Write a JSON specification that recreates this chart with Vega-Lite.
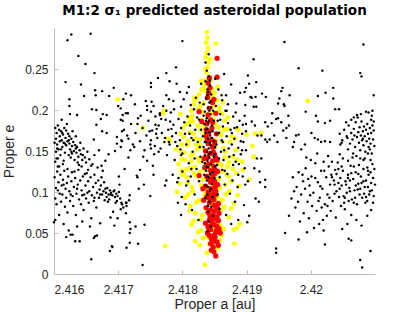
{
"$schema":"https://vega.github.io/schema/vega-lite/v6.json",
"width":321,"height":246,"autosize":"none",
"padding":{"left":54,"top":28,"right":40,"bottom":38},
"background":"white",
"view":{"stroke":null},
"title":{"text":"M1:2 σ₁ predicted asteroidal population","font":"DejaVu Sans","fontSize":13.5,"fontWeight":"bold","color":"#000000","offset":11},
"config":{"axis":{"grid":false,"domainColor":"#bdbdbd","tickColor":"#bdbdbd","tickSize":-4,"labelColor":"#262626","titleColor":"#262626","labelFont":"Liberation Sans","titleFont":"Liberation Sans","labelFontSize":12,"titleFontSize":14,"titleFontWeight":"normal"}},
"datasets":{
"k":[
{"a":2.41602,"e":0.178},{"a":2.41604,"e":0.172},{"a":2.41603,"e":0.165},{"a":2.41606,"e":0.181},{"a":2.41608,"e":0.176},{"a":2.41605,"e":0.158},{"a":2.41609,"e":0.168},{"a":2.41611,"e":0.174},{"a":2.41612,"e":0.163},{"a":2.41607,"e":0.152},{"a":2.41614,"e":0.170},{"a":2.41615,"e":0.160},{"a":2.41613,"e":0.155},{"a":2.41616,"e":0.178},{"a":2.41618,"e":0.166},{"a":2.41619,"e":0.157},{"a":2.41621,"e":0.162},{"a":2.41617,"e":0.148},{"a":2.41622,"e":0.171},{"a":2.41624,"e":0.159},{"a":2.41625,"e":0.152},{"a":2.41623,"e":0.145},{"a":2.41627,"e":0.165},{"a":2.41628,"e":0.156},{"a":2.41630,"e":0.161},{"a":2.41626,"e":0.142},{"a":2.41631,"e":0.150},{"a":2.41633,"e":0.157},{"a":2.41635,"e":0.148},{"a":2.41632,"e":0.139},{"a":2.41636,"e":0.155},{"a":2.41638,"e":0.143},{"a":2.41640,"e":0.151},{"a":2.41637,"e":0.136},{"a":2.41642,"e":0.146},{"a":2.41644,"e":0.139},{"a":2.41646,"e":0.153},{"a":2.41610,"e":0.145},{"a":2.41601,"e":0.160},{"a":2.41603,"e":0.149},{"a":2.41606,"e":0.141},{"a":2.41620,"e":0.183},{"a":2.41612,"e":0.188},{"a":2.41629,"e":0.174},{"a":2.41634,"e":0.168},{"a":2.41641,"e":0.160},{"a":2.41645,"e":0.145},{"a":2.41648,"e":0.142},{"a":2.41650,"e":0.136},{"a":2.41652,"e":0.149},{"a":2.41655,"e":0.140},{"a":2.41658,"e":0.132},{"a":2.41602,"e":0.137},{"a":2.41608,"e":0.131},{"a":2.41615,"e":0.138},{"a":2.41624,"e":0.168},{"a":2.41611,"e":0.152},{"a":2.41619,"e":0.175},{"a":2.41627,"e":0.149},{"a":2.41639,"e":0.133},
{"a":2.41605,"e":0.153},{"a":2.41609,"e":0.162},{"a":2.41613,"e":0.172},{"a":2.41617,"e":0.159},{"a":2.41623,"e":0.163},{"a":2.41628,"e":0.147},{"a":2.41634,"e":0.153},{"a":2.41604,"e":0.141},{"a":2.41614,"e":0.134},{"a":2.41621,"e":0.128},{"a":2.41632,"e":0.125},{"a":2.41643,"e":0.131},{"a":2.41653,"e":0.127},{"a":2.41606,"e":0.102},{"a":2.41615,"e":0.109},{"a":2.41626,"e":0.097},{"a":2.41636,"e":0.104},{"a":2.41644,"e":0.096},{"a":2.41652,"e":0.099},{"a":2.41663,"e":0.093},{"a":2.41672,"e":0.097},{"a":2.41680,"e":0.104},{"a":2.41688,"e":0.097},{"a":2.41694,"e":0.102},{"a":2.41698,"e":0.089},
{"a":2.41601,"e":0.118},{"a":2.41603,"e":0.105},{"a":2.41605,"e":0.125},{"a":2.41602,"e":0.092},{"a":2.41604,"e":0.085},{"a":2.41607,"e":0.112},{"a":2.41609,"e":0.098},{"a":2.41606,"e":0.131},{"a":2.41610,"e":0.121},{"a":2.41612,"e":0.108},{"a":2.41611,"e":0.088},{"a":2.41614,"e":0.115},{"a":2.41613,"e":0.097},{"a":2.41616,"e":0.126},{"a":2.41618,"e":0.104},{"a":2.41617,"e":0.082},{"a":2.41620,"e":0.111},{"a":2.41619,"e":0.093},{"a":2.41622,"e":0.119},{"a":2.41624,"e":0.101},{"a":2.41621,"e":0.075},{"a":2.41625,"e":0.089},{"a":2.41627,"e":0.113},{"a":2.41629,"e":0.095},{"a":2.41628,"e":0.124},{"a":2.41631,"e":0.106},{"a":2.41630,"e":0.083},{"a":2.41633,"e":0.117},{"a":2.41635,"e":0.098},{"a":2.41634,"e":0.072},{"a":2.41637,"e":0.109},{"a":2.41639,"e":0.091},{"a":2.41638,"e":0.127},{"a":2.41641,"e":0.114},{"a":2.41643,"e":0.102},{"a":2.41642,"e":0.085},{"a":2.41645,"e":0.119},{"a":2.41647,"e":0.097},{"a":2.41646,"e":0.078},{"a":2.41649,"e":0.108},{"a":2.41651,"e":0.123},{"a":2.41650,"e":0.092},{"a":2.41653,"e":0.113},{"a":2.41655,"e":0.101},{"a":2.41654,"e":0.087},{"a":2.41657,"e":0.118},{"a":2.41659,"e":0.096},{"a":2.41658,"e":0.068},{"a":2.41661,"e":0.106},{"a":2.41663,"e":0.121},{"a":2.41662,"e":0.089},{"a":2.41665,"e":0.111},{"a":2.41667,"e":0.099},{"a":2.41666,"e":0.081},{"a":2.41669,"e":0.114},{"a":2.41671,"e":0.103},{"a":2.41670,"e":0.093},{"a":2.41673,"e":0.108},{"a":2.41675,"e":0.097},{"a":2.41674,"e":0.118},{"a":2.41677,"e":0.101},{"a":2.41679,"e":0.090},{"a":2.41678,"e":0.112},{"a":2.41681,"e":0.099},{"a":2.41683,"e":0.105},{"a":2.41682,"e":0.094},{"a":2.41685,"e":0.097},{"a":2.41687,"e":0.102},{"a":2.41686,"e":0.091},{"a":2.41689,"e":0.099},{"a":2.41691,"e":0.096},{"a":2.41693,"e":0.101},{"a":2.41695,"e":0.094},{"a":2.41697,"e":0.098},{"a":2.41696,"e":0.087},{"a":2.41699,"e":0.095},{"a":2.41701,"e":0.100},{"a":2.41703,"e":0.092},{"a":2.41692,"e":0.076},{"a":2.41688,"e":0.069},{"a":2.41705,"e":0.087},{"a":2.41708,"e":0.081},{"a":2.41712,"e":0.074},{"a":2.41600,"e":0.063},{"a":2.41602,"e":0.066},{"a":2.41608,"e":0.072},{"a":2.41615,"e":0.061},{"a":2.41626,"e":0.048},{"a":2.41619,"e":0.045},{"a":2.41640,"e":0.040},{"a":2.41656,"e":0.058},{"a":2.41664,"e":0.046},{"a":2.41672,"e":0.062},{"a":2.41690,"e":0.034},{"a":2.41694,"e":0.059},{"a":2.41699,"e":0.068},{"a":2.41718,"e":0.038},{"a":2.41713,"e":0.087},{"a":2.41702,"e":0.109},{"a":2.41676,"e":0.126},{"a":2.41668,"e":0.130},{"a":2.41660,"e":0.134},{"a":2.41684,"e":0.088},{"a":2.41644,"e":0.064},{"a":2.41636,"e":0.058},{"a":2.41623,"e":0.053},{"a":2.41648,"e":0.122},
{"a":2.41663,"e":0.145},{"a":2.41670,"e":0.151},{"a":2.41680,"e":0.138},{"a":2.41685,"e":0.146},{"a":2.41674,"e":0.132},{"a":2.41695,"e":0.150},{"a":2.41705,"e":0.163},{"a":2.41710,"e":0.128},{"a":2.41716,"e":0.142},{"a":2.41725,"e":0.155},{"a":2.41730,"e":0.118},{"a":2.41734,"e":0.127},{"a":2.41740,"e":0.109},{"a":2.41745,"e":0.138},{"a":2.41750,"e":0.095},{"a":2.41755,"e":0.121},
{"a":2.41704,"e":0.155},{"a":2.41719,"e":0.151},{"a":2.41739,"e":0.143},{"a":2.41754,"e":0.132},{"a":2.41729,"e":0.120},{"a":2.41732,"e":0.104},{"a":2.41775,"e":0.114},{"a":2.41773,"e":0.108},{"a":2.41701,"e":0.119},{"a":2.41718,"e":0.096},{"a":2.41717,"e":0.090},{"a":2.41712,"e":0.087},{"a":2.41713,"e":0.083},{"a":2.41706,"e":0.085},{"a":2.41704,"e":0.079},{"a":2.41718,"e":0.063},{"a":2.41719,"e":0.055},{"a":2.41718,"e":0.050},{"a":2.41727,"e":0.058},{"a":2.41741,"e":0.060},{"a":2.41731,"e":0.037},{"a":2.41691,"e":0.033},{"a":2.41687,"e":0.028},{"a":2.41658,"e":0.018},{"a":2.41738,"e":0.011},{"a":2.41713,"e":0.032},{"a":2.41629,"e":0.048},{"a":2.41633,"e":0.040},{"a":2.41662,"e":0.044},{"a":2.41667,"e":0.047},
{"a":2.41621,"e":0.285},{"a":2.41627,"e":0.292},{"a":2.41657,"e":0.293},{"a":2.41638,"e":0.266},{"a":2.41649,"e":0.256},{"a":2.41663,"e":0.245},{"a":2.41618,"e":0.234},{"a":2.41642,"e":0.231},{"a":2.41664,"e":0.224},{"a":2.41647,"e":0.217},{"a":2.41624,"e":0.213},{"a":2.41624,"e":0.205},{"a":2.41665,"e":0.218},{"a":2.41675,"e":0.223},{"a":2.41686,"e":0.217},{"a":2.41693,"e":0.227},{"a":2.41666,"e":0.200},{"a":2.41659,"e":0.201},{"a":2.41712,"e":0.220},{"a":2.41720,"e":0.218},{"a":2.41726,"e":0.207},{"a":2.41751,"e":0.233},{"a":2.41751,"e":0.228},{"a":2.41762,"e":0.239},{"a":2.41775,"e":0.245},{"a":2.41790,"e":0.252},{"a":2.41800,"e":0.284},{"a":2.41780,"e":0.235},{"a":2.41791,"e":0.232},{"a":2.41636,"e":0.194},{"a":2.41625,"e":0.195},{"a":2.41676,"e":0.195},{"a":2.41708,"e":0.213},{"a":2.41704,"e":0.202},{"a":2.41715,"e":0.196},{"a":2.41743,"e":0.211},{"a":2.41745,"e":0.205},{"a":2.41752,"e":0.210},{"a":2.41673,"e":0.189},{"a":2.41682,"e":0.194},{"a":2.41707,"e":0.194},{"a":2.41707,"e":0.187},{"a":2.41730,"e":0.183},{"a":2.41735,"e":0.193},{"a":2.41765,"e":0.194},{"a":2.41775,"e":0.199},{"a":2.41666,"e":0.182},{"a":2.41662,"e":0.164},{"a":2.41675,"e":0.174},{"a":2.41682,"e":0.172},{"a":2.41698,"e":0.167},{"a":2.41698,"e":0.159},{"a":2.41706,"e":0.174},{"a":2.41706,"e":0.162},{"a":2.41714,"e":0.169},{"a":2.41751,"e":0.163},{"a":2.41749,"e":0.174},{"a":2.41760,"e":0.177},{"a":2.41751,"e":0.198},{"a":2.41758,"e":0.182},{"a":2.41781,"e":0.186},{"a":2.41798,"e":0.204},{"a":2.41779,"e":0.161},{"a":2.41751,"e":0.153},{"a":2.41757,"e":0.156},{"a":2.41798,"e":0.145},{"a":2.41794,"e":0.117},{"a":2.41799,"e":0.094},{"a":2.41793,"e":0.087},
{"a":2.41700,"e":0.205},{"a":2.41704,"e":0.188},{"a":2.41709,"e":0.176},{"a":2.41712,"e":0.196},{"a":2.41716,"e":0.165},{"a":2.41720,"e":0.183},{"a":2.41723,"e":0.158},{"a":2.41727,"e":0.172},{"a":2.41731,"e":0.190},{"a":2.41734,"e":0.162},{"a":2.41738,"e":0.178},{"a":2.41741,"e":0.151},{"a":2.41744,"e":0.169},{"a":2.41747,"e":0.187},{"a":2.41750,"e":0.158},{"a":2.41753,"e":0.175},{"a":2.41756,"e":0.146},{"a":2.41758,"e":0.192},{"a":2.41761,"e":0.166},{"a":2.41763,"e":0.181},{"a":2.41766,"e":0.153},{"a":2.41768,"e":0.172},{"a":2.41770,"e":0.205},{"a":2.41772,"e":0.161},{"a":2.41774,"e":0.188},{"a":2.41776,"e":0.145},{"a":2.41778,"e":0.176},{"a":2.41780,"e":0.158},{"a":2.41782,"e":0.197},{"a":2.41784,"e":0.168},{"a":2.41786,"e":0.182},{"a":2.41788,"e":0.139},{"a":2.41790,"e":0.172},{"a":2.41792,"e":0.156},{"a":2.41794,"e":0.189},{"a":2.41796,"e":0.163},{"a":2.41798,"e":0.178},{"a":2.41800,"e":0.147},{"a":2.41802,"e":0.213},{"a":2.41804,"e":0.171},{"a":2.41806,"e":0.158},{"a":2.41808,"e":0.192},{"a":2.41810,"e":0.135},{"a":2.41812,"e":0.181},{"a":2.41814,"e":0.166},{"a":2.41816,"e":0.149},{"a":2.41818,"e":0.201},{"a":2.41820,"e":0.176},{"a":2.41822,"e":0.128},{"a":2.41824,"e":0.161},{"a":2.41826,"e":0.188},{"a":2.41828,"e":0.143},{"a":2.41785,"e":0.121},{"a":2.41792,"e":0.112},{"a":2.41800,"e":0.125},{"a":2.41806,"e":0.108},{"a":2.41813,"e":0.119},{"a":2.41819,"e":0.097},{"a":2.41826,"e":0.113},{"a":2.41796,"e":0.222},{"a":2.41810,"e":0.228},{"a":2.41821,"e":0.215},{"a":2.41829,"e":0.232},{"a":2.41786,"e":0.211},{"a":2.41775,"e":0.218},{"a":2.41765,"e":0.196},{"a":2.41755,"e":0.205},{"a":2.41745,"e":0.200},{"a":2.41805,"e":0.085},{"a":2.41815,"e":0.078},{"a":2.41798,"e":0.072},{"a":2.41825,"e":0.066},
{"a":2.41843,"e":0.236},{"a":2.41839,"e":0.218},{"a":2.41845,"e":0.203},{"a":2.41837,"e":0.187},{"a":2.41846,"e":0.166},{"a":2.41841,"e":0.146},{"a":2.41838,"e":0.119},{"a":2.41844,"e":0.104},{"a":2.41840,"e":0.083},{"a":2.41847,"e":0.124},{"a":2.41835,"e":0.161},{"a":2.41833,"e":0.193},{"a":2.41849,"e":0.187},{"a":2.41851,"e":0.155},{"a":2.41831,"e":0.137},{"a":2.41829,"e":0.176},{"a":2.41827,"e":0.155},{"a":2.41853,"e":0.171},{"a":2.41857,"e":0.141},{"a":2.41859,"e":0.188},{"a":2.41863,"e":0.161},{"a":2.41869,"e":0.199},{"a":2.41877,"e":0.172},{"a":2.41883,"e":0.197},{"a":2.41891,"e":0.162},{"a":2.41823,"e":0.191},{"a":2.41817,"e":0.163},{"a":2.41811,"e":0.171},{"a":2.41803,"e":0.185},{"a":2.41797,"e":0.152},{"a":2.41789,"e":0.161},{"a":2.41783,"e":0.177},{"a":2.41773,"e":0.166},{"a":2.41767,"e":0.189},{"a":2.41759,"e":0.171},{"a":2.41763,"e":0.149},{"a":2.41787,"e":0.201},{"a":2.41779,"e":0.213},{"a":2.41813,"e":0.206},{"a":2.41807,"e":0.221},{"a":2.41827,"e":0.209},{"a":2.41861,"e":0.218},{"a":2.41871,"e":0.207},{"a":2.41881,"e":0.178},{"a":2.41893,"e":0.151},{"a":2.41897,"e":0.193},{"a":2.41887,"e":0.121},{"a":2.41879,"e":0.133},{"a":2.41866,"e":0.126},{"a":2.41819,"e":0.141},{"a":2.41814,"e":0.128},{"a":2.41809,"e":0.113},
{"a":2.41838,"e":0.248},{"a":2.41841,"e":0.241},{"a":2.41836,"e":0.235},{"a":2.41843,"e":0.230},{"a":2.41839,"e":0.225},{"a":2.41845,"e":0.219},{"a":2.41837,"e":0.214},{"a":2.41842,"e":0.209},{"a":2.41840,"e":0.203},{"a":2.41835,"e":0.198},{"a":2.41844,"e":0.195},{"a":2.41838,"e":0.190},{"a":2.41841,"e":0.186},{"a":2.41846,"e":0.181},{"a":2.41839,"e":0.177},{"a":2.41836,"e":0.172},{"a":2.41843,"e":0.169},{"a":2.41840,"e":0.165},{"a":2.41837,"e":0.161},{"a":2.41844,"e":0.157},{"a":2.41841,"e":0.153},{"a":2.41838,"e":0.149},{"a":2.41835,"e":0.145},{"a":2.41842,"e":0.142},{"a":2.41839,"e":0.138},{"a":2.41845,"e":0.134},{"a":2.41840,"e":0.130},{"a":2.41837,"e":0.126},{"a":2.41843,"e":0.122},{"a":2.41841,"e":0.118},{"a":2.41838,"e":0.114},{"a":2.41846,"e":0.110},{"a":2.41840,"e":0.106},{"a":2.41843,"e":0.101},{"a":2.41839,"e":0.097},{"a":2.41836,"e":0.093},{"a":2.41842,"e":0.088},{"a":2.41845,"e":0.082},{"a":2.41840,"e":0.076},{"a":2.41848,"e":0.071},{"a":2.41841,"e":0.064},{"a":2.41844,"e":0.058},{"a":2.41839,"e":0.052},{"a":2.41847,"e":0.174},{"a":2.41834,"e":0.183},{"a":2.41849,"e":0.162},{"a":2.41833,"e":0.155},{"a":2.41850,"e":0.146},{"a":2.41832,"e":0.168},{"a":2.41851,"e":0.131},{"a":2.41834,"e":0.121},{"a":2.41848,"e":0.199},{"a":2.41833,"e":0.207},{"a":2.41850,"e":0.117},{"a":2.41836,"e":0.108},{"a":2.41847,"e":0.094},{"a":2.41835,"e":0.135},{"a":2.41849,"e":0.143},{"a":2.41842,"e":0.173},{"a":2.41840,"e":0.184},{"a":2.41844,"e":0.211},{"a":2.41836,"e":0.258},{"a":2.41841,"e":0.268},{"a":2.41843,"e":0.160},{"a":2.41838,"e":0.131},{"a":2.41842,"e":0.199},{"a":2.41840,"e":0.222},{"a":2.41837,"e":0.176},{"a":2.41844,"e":0.148},
{"a":2.41852,"e":0.205},{"a":2.41855,"e":0.187},{"a":2.41857,"e":0.172},{"a":2.41859,"e":0.195},{"a":2.41861,"e":0.163},{"a":2.41863,"e":0.180},{"a":2.41865,"e":0.151},{"a":2.41867,"e":0.199},{"a":2.41869,"e":0.168},{"a":2.41871,"e":0.184},{"a":2.41873,"e":0.143},{"a":2.41875,"e":0.176},{"a":2.41877,"e":0.158},{"a":2.41879,"e":0.192},{"a":2.41881,"e":0.165},{"a":2.41883,"e":0.137},{"a":2.41885,"e":0.179},{"a":2.41887,"e":0.154},{"a":2.41889,"e":0.187},{"a":2.41891,"e":0.146},{"a":2.41893,"e":0.171},{"a":2.41895,"e":0.161},{"a":2.41897,"e":0.129},{"a":2.41899,"e":0.183},{"a":2.41854,"e":0.133},{"a":2.41858,"e":0.118},{"a":2.41862,"e":0.127},{"a":2.41866,"e":0.109},{"a":2.41870,"e":0.122},{"a":2.41874,"e":0.098},{"a":2.41878,"e":0.114},{"a":2.41882,"e":0.088},{"a":2.41886,"e":0.106},{"a":2.41856,"e":0.225},{"a":2.41862,"e":0.212},{"a":2.41868,"e":0.218},{"a":2.41876,"e":0.231},{"a":2.41884,"e":0.208},{"a":2.41890,"e":0.221},{"a":2.41853,"e":0.158},{"a":2.41860,"e":0.149},{"a":2.41864,"e":0.139},{"a":2.41872,"e":0.153},{"a":2.41880,"e":0.145},{"a":2.41888,"e":0.134},{"a":2.41894,"e":0.119},{"a":2.41898,"e":0.109},{"a":2.41858,"e":0.079},{"a":2.41868,"e":0.072},{"a":2.41876,"e":0.061},{"a":2.41887,"e":0.066},{"a":2.41896,"e":0.084},{"a":2.41851,"e":0.238},{"a":2.41865,"e":0.244},{"a":2.41855,"e":0.097},
{"a":2.41899,"e":0.151},{"a":2.41916,"e":0.141},{"a":2.41923,"e":0.141},{"a":2.41912,"e":0.129},{"a":2.41920,"e":0.125},{"a":2.41902,"e":0.113},{"a":2.41921,"e":0.112},{"a":2.41929,"e":0.106},{"a":2.41929,"e":0.115},{"a":2.41914,"e":0.092},{"a":2.41919,"e":0.088},{"a":2.41904,"e":0.071},{"a":2.41901,"e":0.063},{"a":2.41946,"e":0.031},{"a":2.41946,"e":0.026},{"a":2.41960,"e":0.050},{"a":2.41981,"e":0.042},{"a":2.42022,"e":0.036},{"a":2.42059,"e":0.043},{"a":2.42063,"e":0.041},{"a":2.42077,"e":0.017},{"a":2.42093,"e":0.028},{"a":2.42080,"e":0.008},
{"a":2.41959,"e":0.283},{"a":2.42082,"e":0.280},{"a":2.41911,"e":0.262},{"a":2.41981,"e":0.251},{"a":2.42018,"e":0.248},{"a":2.42077,"e":0.245},{"a":2.42079,"e":0.241},{"a":2.41902,"e":0.242},{"a":2.41915,"e":0.234},{"a":2.41904,"e":0.232},{"a":2.41899,"e":0.227},{"a":2.41897,"e":0.222},{"a":2.41906,"e":0.216},{"a":2.41908,"e":0.215},{"a":2.41914,"e":0.216},{"a":2.41924,"e":0.220},{"a":2.41930,"e":0.216},{"a":2.41954,"e":0.223},{"a":2.41956,"e":0.227},{"a":2.41951,"e":0.214},{"a":2.41967,"e":0.218},{"a":2.41992,"e":0.198},{"a":2.42011,"e":0.217},{"a":2.42023,"e":0.221},{"a":2.42035,"e":0.227},{"a":2.42035,"e":0.214},{"a":2.42044,"e":0.201},{"a":2.42038,"e":0.201},{"a":2.42098,"e":0.218},{"a":2.41898,"e":0.206},{"a":2.41911,"e":0.204},{"a":2.41915,"e":0.204},{"a":2.41940,"e":0.196},{"a":2.41958,"e":0.207},{"a":2.41959,"e":0.205},{"a":2.41949,"e":0.208},{"a":2.41965,"e":0.193},{"a":2.42008,"e":0.193},{"a":2.42011,"e":0.186},{"a":2.42022,"e":0.184},{"a":2.42030,"e":0.187},{"a":2.42055,"e":0.185},{"a":2.42067,"e":0.191},{"a":2.42072,"e":0.194},{"a":2.42090,"e":0.197},{"a":2.42096,"e":0.199},{"a":2.42095,"e":0.193},
{"a":2.41894,"e":0.182},{"a":2.41908,"e":0.186},{"a":2.41913,"e":0.181},{"a":2.41929,"e":0.185},{"a":2.41933,"e":0.180},{"a":2.41939,"e":0.184},{"a":2.41946,"e":0.189},{"a":2.41949,"e":0.190},{"a":2.41954,"e":0.185},{"a":2.41962,"e":0.178},{"a":2.41966,"e":0.181},{"a":2.41899,"e":0.174},{"a":2.41917,"e":0.169},{"a":2.41923,"e":0.169},{"a":2.41929,"e":0.164},{"a":2.41932,"e":0.161},{"a":2.41936,"e":0.164},{"a":2.41943,"e":0.169},{"a":2.41948,"e":0.161},{"a":2.41957,"e":0.175},{"a":2.41962,"e":0.166},{"a":2.41974,"e":0.161},{"a":2.41977,"e":0.169},{"a":2.41981,"e":0.170},{"a":2.42001,"e":0.172},{"a":2.42006,"e":0.166},{"a":2.42011,"e":0.164},{"a":2.42016,"e":0.161},{"a":2.42022,"e":0.162},{"a":2.42030,"e":0.161},{"a":2.42048,"e":0.160},{"a":2.42057,"e":0.166},{"a":2.41991,"e":0.158},{"a":2.41985,"e":0.152},{"a":2.41972,"e":0.155},
{"a":2.42052,"e":0.176},{"a":2.42056,"e":0.168},{"a":2.42059,"e":0.181},{"a":2.42061,"e":0.159},{"a":2.42063,"e":0.172},{"a":2.42065,"e":0.164},{"a":2.42067,"e":0.177},{"a":2.42069,"e":0.155},{"a":2.42070,"e":0.185},{"a":2.42072,"e":0.167},{"a":2.42074,"e":0.173},{"a":2.42075,"e":0.160},{"a":2.42076,"e":0.179},{"a":2.42077,"e":0.151},{"a":2.42078,"e":0.169},{"a":2.42079,"e":0.186},{"a":2.42080,"e":0.163},{"a":2.42081,"e":0.174},{"a":2.42082,"e":0.157},{"a":2.42083,"e":0.180},{"a":2.42084,"e":0.168},{"a":2.42085,"e":0.149},{"a":2.42086,"e":0.176},{"a":2.42087,"e":0.162},{"a":2.42088,"e":0.183},{"a":2.42089,"e":0.171},{"a":2.42090,"e":0.155},{"a":2.42091,"e":0.165},{"a":2.42092,"e":0.178},{"a":2.42093,"e":0.159},{"a":2.42094,"e":0.172},{"a":2.42095,"e":0.147},{"a":2.42096,"e":0.181},{"a":2.42097,"e":0.164},{"a":2.42098,"e":0.175},{"a":2.42099,"e":0.156},{"a":2.42046,"e":0.158},{"a":2.42049,"e":0.163},{"a":2.42058,"e":0.152},{"a":2.42066,"e":0.147},{"a":2.42071,"e":0.144},{"a":2.42084,"e":0.141},{"a":2.42089,"e":0.147},{"a":2.42094,"e":0.188},{"a":2.42073,"e":0.191},{"a":2.42063,"e":0.188},{"a":2.42078,"e":0.195},{"a":2.42086,"e":0.198},{"a":2.42098,"e":0.186},{"a":2.42045,"e":0.171},{"a":2.42068,"e":0.169},{"a":2.42081,"e":0.165},{"a":2.42092,"e":0.152},
{"a":2.41972,"e":0.118},{"a":2.41978,"e":0.106},{"a":2.41981,"e":0.124},{"a":2.41985,"e":0.097},{"a":2.41988,"e":0.113},{"a":2.41992,"e":0.129},{"a":2.41995,"e":0.088},{"a":2.41998,"e":0.108},{"a":2.42001,"e":0.119},{"a":2.42004,"e":0.099},{"a":2.42007,"e":0.135},{"a":2.42009,"e":0.077},{"a":2.42011,"e":0.112},{"a":2.42014,"e":0.093},{"a":2.42016,"e":0.126},{"a":2.42018,"e":0.104},{"a":2.42020,"e":0.137},{"a":2.42022,"e":0.085},{"a":2.42024,"e":0.118},{"a":2.42026,"e":0.097},{"a":2.42028,"e":0.131},{"a":2.42030,"e":0.109},{"a":2.42032,"e":0.121},{"a":2.42034,"e":0.089},{"a":2.42036,"e":0.114},{"a":2.42038,"e":0.127},{"a":2.42040,"e":0.101},{"a":2.42042,"e":0.136},{"a":2.42044,"e":0.094},{"a":2.42046,"e":0.117},{"a":2.42048,"e":0.108},{"a":2.42050,"e":0.126},{"a":2.42052,"e":0.087},{"a":2.42054,"e":0.113},{"a":2.42056,"e":0.099},{"a":2.42058,"e":0.121},{"a":2.42060,"e":0.105},{"a":2.42062,"e":0.132},{"a":2.42064,"e":0.091},{"a":2.42066,"e":0.116},{"a":2.42068,"e":0.102},{"a":2.42070,"e":0.124},{"a":2.42072,"e":0.085},{"a":2.42074,"e":0.110},{"a":2.42076,"e":0.097},{"a":2.42078,"e":0.119},{"a":2.42080,"e":0.093},{"a":2.42082,"e":0.128},{"a":2.42084,"e":0.106},{"a":2.42086,"e":0.114},{"a":2.42088,"e":0.089},{"a":2.42090,"e":0.121},{"a":2.42092,"e":0.101},{"a":2.42094,"e":0.111},{"a":2.42096,"e":0.134},{"a":2.42098,"e":0.095},{"a":2.42100,"e":0.109},{"a":2.42047,"e":0.083},{"a":2.42053,"e":0.079},{"a":2.42061,"e":0.114},{"a":2.42067,"e":0.131},{"a":2.42073,"e":0.103},{"a":2.42079,"e":0.111},{"a":2.42085,"e":0.087},{"a":2.42091,"e":0.097},{"a":2.42097,"e":0.117},{"a":2.42043,"e":0.111},{"a":2.42037,"e":0.098},{"a":2.42031,"e":0.077},{"a":2.42025,"e":0.071},{"a":2.42019,"e":0.066},{"a":2.42013,"e":0.061},{"a":2.42005,"e":0.056},{"a":2.41997,"e":0.068},{"a":2.41989,"e":0.074},{"a":2.41983,"e":0.064},{"a":2.41976,"e":0.081},{"a":2.41970,"e":0.092},{"a":2.41966,"e":0.071},{"a":2.42063,"e":0.072},{"a":2.42071,"e":0.066},{"a":2.42079,"e":0.059},{"a":2.42088,"e":0.071},{"a":2.42094,"e":0.078},{"a":2.42057,"e":0.061},{"a":2.42049,"e":0.055},{"a":2.42039,"e":0.069},{"a":2.42033,"e":0.137},{"a":2.42027,"e":0.144},{"a":2.42050,"e":0.141},{"a":2.42058,"e":0.138},{"a":2.42065,"e":0.142},{"a":2.42075,"e":0.133},{"a":2.42082,"e":0.139},{"a":2.42088,"e":0.130},{"a":2.42093,"e":0.124},{"a":2.42099,"e":0.128},{"a":2.42040,"e":0.122},{"a":2.42045,"e":0.104},{"a":2.42051,"e":0.095},{"a":2.42055,"e":0.109},{"a":2.42059,"e":0.089},{"a":2.42069,"e":0.093},{"a":2.42077,"e":0.104},{"a":2.42083,"e":0.098},{"a":2.42089,"e":0.106},{"a":2.42095,"e":0.102},{"a":2.42010,"e":0.147},{"a":2.42000,"e":0.139},{"a":2.41993,"e":0.142},{"a":2.42017,"e":0.081},{"a":2.42002,"e":0.083},{"a":2.41994,"e":0.051},{"a":2.42020,"e":0.053},
{"a":2.42053,"e":0.093},{"a":2.42067,"e":0.087},{"a":2.42082,"e":0.113},{"a":2.42089,"e":0.126},{"a":2.42061,"e":0.101},{"a":2.42043,"e":0.128},{"a":2.42037,"e":0.109},{"a":2.42029,"e":0.093},{"a":2.42021,"e":0.126},{"a":2.42015,"e":0.107},{"a":2.42007,"e":0.117},{"a":2.41999,"e":0.096},{"a":2.41991,"e":0.104},{"a":2.42074,"e":0.122},{"a":2.42097,"e":0.087},{"a":2.42086,"e":0.094},{"a":2.42070,"e":0.108},{"a":2.42058,"e":0.117},{"a":2.42048,"e":0.131},{"a":2.42063,"e":0.123},{"a":2.42077,"e":0.141},{"a":2.42093,"e":0.139},{"a":2.42045,"e":0.146},{"a":2.42033,"e":0.118},{"a":2.42026,"e":0.083},{"a":2.42012,"e":0.089},{"a":2.41980,"e":0.088},{"a":2.41974,"e":0.101},{"a":2.41987,"e":0.121},{"a":2.41996,"e":0.116}
],
"y":[
{"a":2.41838,"e":0.295},{"a":2.41839,"e":0.288},{"a":2.41837,"e":0.282},{"a":2.41840,"e":0.276},{"a":2.41838,"e":0.270},{"a":2.41836,"e":0.264},{"a":2.41841,"e":0.258},{"a":2.41839,"e":0.252},{"a":2.41837,"e":0.246},{"a":2.41842,"e":0.241},{"a":2.41835,"e":0.236},{"a":2.41840,"e":0.232},{"a":2.41844,"e":0.237},{"a":2.41833,"e":0.229},{"a":2.41846,"e":0.226},{"a":2.41838,"e":0.222},{"a":2.41843,"e":0.262},{"a":2.41836,"e":0.250},{"a":2.41852,"e":0.281},
{"a":2.41830,"e":0.225},{"a":2.41826,"e":0.219},{"a":2.41850,"e":0.221},{"a":2.41822,"e":0.214},{"a":2.41854,"e":0.212},{"a":2.41818,"e":0.207},{"a":2.41828,"e":0.205},{"a":2.41858,"e":0.203},{"a":2.41814,"e":0.199},{"a":2.41832,"e":0.197},{"a":2.41862,"e":0.195},{"a":2.41810,"e":0.191},{"a":2.41848,"e":0.189},{"a":2.41866,"e":0.187},{"a":2.41806,"e":0.183},{"a":2.41824,"e":0.181},{"a":2.41856,"e":0.179},{"a":2.41870,"e":0.177},{"a":2.41812,"e":0.173},{"a":2.41834,"e":0.171},{"a":2.41860,"e":0.169},{"a":2.41802,"e":0.167},{"a":2.41820,"e":0.165},{"a":2.41852,"e":0.163},{"a":2.41874,"e":0.161},{"a":2.41808,"e":0.157},{"a":2.41830,"e":0.155},{"a":2.41864,"e":0.153},{"a":2.41798,"e":0.149},{"a":2.41816,"e":0.147},{"a":2.41848,"e":0.145},{"a":2.41878,"e":0.143},{"a":2.41804,"e":0.139},{"a":2.41826,"e":0.137},{"a":2.41856,"e":0.135},{"a":2.41870,"e":0.131},{"a":2.41812,"e":0.129},{"a":2.41834,"e":0.127},{"a":2.41862,"e":0.125},{"a":2.41800,"e":0.121},{"a":2.41822,"e":0.119},{"a":2.41850,"e":0.117},{"a":2.41876,"e":0.113},{"a":2.41808,"e":0.111},{"a":2.41830,"e":0.108},{"a":2.41858,"e":0.105},{"a":2.41816,"e":0.101},{"a":2.41844,"e":0.099},{"a":2.41868,"e":0.097},{"a":2.41804,"e":0.093},{"a":2.41826,"e":0.090},{"a":2.41852,"e":0.088},{"a":2.41880,"e":0.086},{"a":2.41812,"e":0.083},{"a":2.41836,"e":0.080},{"a":2.41860,"e":0.078},{"a":2.41820,"e":0.074},{"a":2.41848,"e":0.071},{"a":2.41828,"e":0.066},{"a":2.41856,"e":0.063},{"a":2.41814,"e":0.060},{"a":2.41840,"e":0.058},{"a":2.41864,"e":0.055},{"a":2.41824,"e":0.051},{"a":2.41850,"e":0.048},{"a":2.41832,"e":0.044},{"a":2.41858,"e":0.041},{"a":2.41842,"e":0.037},{"a":2.41820,"e":0.040},{"a":2.41881,"e":0.037},{"a":2.41880,"e":0.054},{"a":2.41885,"e":0.056},{"a":2.41835,"e":0.011},{"a":2.41846,"e":0.030},{"a":2.41852,"e":0.022},{"a":2.41838,"e":0.026},{"a":2.41818,"e":0.215},{"a":2.41844,"e":0.202},{"a":2.41852,"e":0.196},{"a":2.41816,"e":0.186},{"a":2.41840,"e":0.184},{"a":2.41828,"e":0.176},{"a":2.41844,"e":0.160},{"a":2.41836,"e":0.150},{"a":2.41826,"e":0.158},{"a":2.41842,"e":0.132},{"a":2.41818,"e":0.123},{"a":2.41866,"e":0.142},{"a":2.41872,"e":0.119},{"a":2.41832,"e":0.115},{"a":2.41846,"e":0.122},{"a":2.41838,"e":0.104},{"a":2.41814,"e":0.138},{"a":2.41806,"e":0.128},{"a":2.41862,"e":0.090},{"a":2.41872,"e":0.069},{"a":2.41886,"e":0.096},{"a":2.41796,"e":0.110},{"a":2.41794,"e":0.134},{"a":2.41790,"e":0.152},{"a":2.41792,"e":0.100},{"a":2.41876,"e":0.080},{"a":2.41884,"e":0.123},{"a":2.41882,"e":0.165},{"a":2.41888,"e":0.107},
{"a":2.41819,"e":0.211},{"a":2.41833,"e":0.208},{"a":2.41847,"e":0.216},{"a":2.41863,"e":0.209},{"a":2.41825,"e":0.201},{"a":2.41839,"e":0.193},{"a":2.41857,"e":0.199},{"a":2.41871,"e":0.191},{"a":2.41811,"e":0.185},{"a":2.41829,"e":0.188},{"a":2.41851,"e":0.183},{"a":2.41865,"e":0.176},{"a":2.41817,"e":0.171},{"a":2.41837,"e":0.166},{"a":2.41859,"e":0.172},{"a":2.41877,"e":0.168},{"a":2.41809,"e":0.162},{"a":2.41823,"e":0.152},{"a":2.41845,"e":0.157},{"a":2.41867,"e":0.149},{"a":2.41813,"e":0.144},{"a":2.41831,"e":0.141},{"a":2.41853,"e":0.139},{"a":2.41873,"e":0.136},{"a":2.41819,"e":0.131},{"a":2.41839,"e":0.128},{"a":2.41861,"e":0.133},{"a":2.41807,"e":0.118},{"a":2.41827,"e":0.124},{"a":2.41847,"e":0.113},{"a":2.41867,"e":0.109},{"a":2.41815,"e":0.106},{"a":2.41835,"e":0.097},{"a":2.41855,"e":0.094},{"a":2.41873,"e":0.101},{"a":2.41821,"e":0.087},{"a":2.41843,"e":0.084},{"a":2.41865,"e":0.082},{"a":2.41811,"e":0.077},{"a":2.41831,"e":0.072},{"a":2.41853,"e":0.068},{"a":2.41817,"e":0.065},{"a":2.41837,"e":0.061},{"a":2.41859,"e":0.059},{"a":2.41829,"e":0.053},{"a":2.41849,"e":0.056},{"a":2.41839,"e":0.045},{"a":2.41861,"e":0.047},{"a":2.41827,"e":0.035},{"a":2.41855,"e":0.031},{"a":2.41801,"e":0.178},{"a":2.41797,"e":0.171},{"a":2.41803,"e":0.148},{"a":2.41799,"e":0.126},{"a":2.41883,"e":0.151},{"a":2.41879,"e":0.128},{"a":2.41887,"e":0.176},{"a":2.41885,"e":0.139},{"a":2.41841,"e":0.218},{"a":2.41835,"e":0.225},{"a":2.41855,"e":0.228},{"a":2.41829,"e":0.235},{"a":2.41849,"e":0.205},{"a":2.41845,"e":0.195},{"a":2.41833,"e":0.182},{"a":2.41843,"e":0.174},{"a":2.41851,"e":0.155},{"a":2.41827,"e":0.164},{"a":2.41835,"e":0.137},{"a":2.41857,"e":0.116},{"a":2.41841,"e":0.106},{"a":2.41833,"e":0.091},{"a":2.41849,"e":0.077},{"a":2.41825,"e":0.141},{"a":2.41863,"e":0.161},{"a":2.41815,"e":0.192},{"a":2.41821,"e":0.158},{"a":2.41809,"e":0.097},{"a":2.41869,"e":0.121},{"a":2.41845,"e":0.134},{"a":2.41831,"e":0.105},
{"a":2.41699,"e":0.213},{"a":2.41738,"e":0.178},{"a":2.41773,"e":0.034},{"a":2.41995,"e":0.211},{"a":2.41913,"e":0.171},{"a":2.41900,"e":0.170},{"a":2.41923,"e":0.172},{"a":2.41909,"e":0.156},{"a":2.41911,"e":0.143},{"a":2.41893,"e":0.137},{"a":2.41894,"e":0.127},{"a":2.41904,"e":0.115},{"a":2.41889,"e":0.061},{"a":2.41772,"e":0.199},{"a":2.41770,"e":0.196},{"a":2.41780,"e":0.162},{"a":2.41778,"e":0.165},{"a":2.41797,"e":0.195},{"a":2.41799,"e":0.158},{"a":2.41799,"e":0.140},{"a":2.41802,"e":0.122}
],
"r":[
{"a":2.41854,"e":0.263},{"a":2.41854,"e":0.240},{"a":2.41842,"e":0.239},{"a":2.41840,"e":0.233},{"a":2.41843,"e":0.227},{"a":2.41841,"e":0.221},{"a":2.41839,"e":0.215},{"a":2.41847,"e":0.209},{"a":2.41826,"e":0.198},{"a":2.41842,"e":0.202},{"a":2.41840,"e":0.194},{"a":2.41844,"e":0.188},{"a":2.41838,"e":0.183},{"a":2.41846,"e":0.178},{"a":2.41841,"e":0.173},{"a":2.41837,"e":0.168},{"a":2.41845,"e":0.164},{"a":2.41840,"e":0.159},{"a":2.41848,"e":0.155},{"a":2.41836,"e":0.150},{"a":2.41843,"e":0.147},{"a":2.41839,"e":0.142},{"a":2.41847,"e":0.138},{"a":2.41841,"e":0.134},{"a":2.41835,"e":0.130},{"a":2.41844,"e":0.126},{"a":2.41850,"e":0.122},{"a":2.41838,"e":0.119},{"a":2.41826,"e":0.120},{"a":2.41842,"e":0.115},{"a":2.41848,"e":0.111},{"a":2.41836,"e":0.107},{"a":2.41845,"e":0.104},{"a":2.41840,"e":0.100},{"a":2.41852,"e":0.097},{"a":2.41838,"e":0.094},{"a":2.41846,"e":0.090},{"a":2.41842,"e":0.087},{"a":2.41850,"e":0.084},{"a":2.41837,"e":0.081},{"a":2.41844,"e":0.078},{"a":2.41840,"e":0.075},{"a":2.41848,"e":0.072},{"a":2.41854,"e":0.069},{"a":2.41842,"e":0.066},{"a":2.41846,"e":0.063},{"a":2.41850,"e":0.060},{"a":2.41840,"e":0.057},{"a":2.41844,"e":0.054},{"a":2.41852,"e":0.051},{"a":2.41859,"e":0.050},{"a":2.41842,"e":0.047},{"a":2.41847,"e":0.044},{"a":2.41850,"e":0.040},{"a":2.41844,"e":0.037},{"a":2.41848,"e":0.033},{"a":2.41852,"e":0.022},{"a":2.41845,"e":0.029},{"a":2.41839,"e":0.163},{"a":2.41849,"e":0.131},{"a":2.41834,"e":0.141},{"a":2.41850,"e":0.146},{"a":2.41833,"e":0.090},{"a":2.41855,"e":0.080},{"a":2.41836,"e":0.062},{"a":2.41854,"e":0.058},{"a":2.41832,"e":0.104},{"a":2.41849,"e":0.099},{"a":2.41837,"e":0.176},{"a":2.41830,"e":0.186},{"a":2.41846,"e":0.122},{"a":2.41843,"e":0.071},{"a":2.41849,"e":0.047},{"a":2.41838,"e":0.132},{"a":2.41844,"e":0.112},{"a":2.41841,"e":0.093},{"a":2.41847,"e":0.155},{"a":2.41851,"e":0.106},{"a":2.41839,"e":0.050},{"a":2.41856,"e":0.065},{"a":2.41843,"e":0.058},
{"a":2.41849,"e":0.213},{"a":2.41852,"e":0.196},{"a":2.41847,"e":0.185},{"a":2.41853,"e":0.171},{"a":2.41850,"e":0.161},{"a":2.41848,"e":0.149},{"a":2.41854,"e":0.139},{"a":2.41851,"e":0.127},{"a":2.41847,"e":0.117},{"a":2.41855,"e":0.109},{"a":2.41852,"e":0.101},{"a":2.41849,"e":0.091},{"a":2.41856,"e":0.086},{"a":2.41850,"e":0.077},{"a":2.41853,"e":0.067},{"a":2.41848,"e":0.061},{"a":2.41857,"e":0.055},{"a":2.41851,"e":0.045},{"a":2.41854,"e":0.039},{"a":2.41849,"e":0.027},{"a":2.41856,"e":0.035},{"a":2.41846,"e":0.096},{"a":2.41851,"e":0.083},{"a":2.41855,"e":0.125},{"a":2.41847,"e":0.068},{"a":2.41853,"e":0.053},{"a":2.41850,"e":0.113},{"a":2.41857,"e":0.074},{"a":2.41845,"e":0.043},{"a":2.41852,"e":0.142}
]
},
"encoding":{
"x":{"field":"a","type":"quantitative","scale":{"domain":[2.416,2.421],"nice":false,"zero":false},"axis":{"values":[2.416,2.417,2.418,2.419,2.42],"format":"~g","title":"Proper a [au]","labelPadding":14,"titlePadding":2}},
"y":{"field":"e","type":"quantitative","scale":{"domain":[0,0.3],"nice":false},"axis":{"values":[0,0.05,0.1,0.15,0.2,0.25],"format":"~g","title":"Proper e","labelPadding":10,"titlePadding":8}}
},
"layer":[
{"data":{"name":"y"},"mark":{"type":"circle","size":24,"color":"#ffff00","opacity":1}},
{"data":{"name":"r"},"mark":{"type":"circle","size":28,"color":"#ff0000","opacity":1}},
{"data":{"name":"k"},"mark":{"type":"circle","size":6,"color":"#000000","opacity":1}}
]
}
